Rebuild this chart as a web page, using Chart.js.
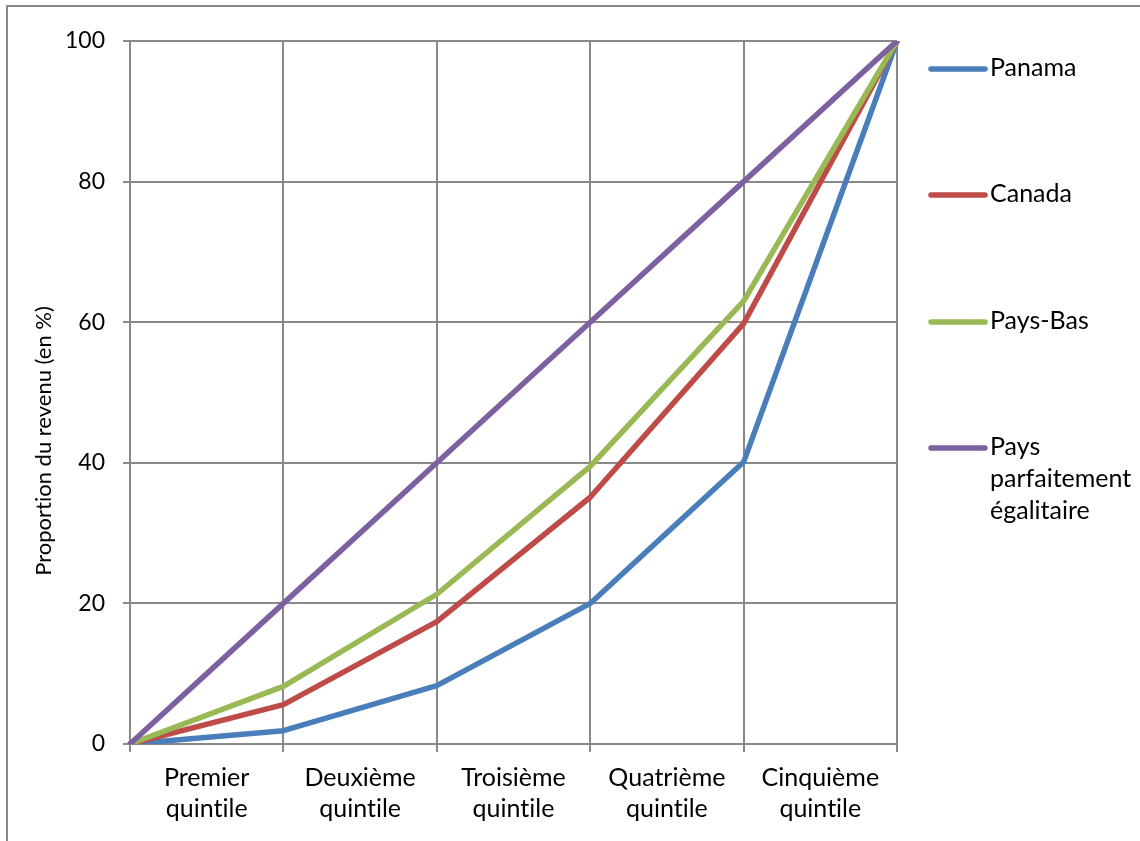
<!DOCTYPE html>
<html lang="fr">
<head>
<meta charset="utf-8">
<title>Courbes de Lorenz</title>
<script src="https://cdn.jsdelivr.net/npm/chart.js@4/dist/chart.umd.min.js"></script>
<style>
  html, body { margin: 0; padding: 0; background: #fff; }
  #wrap { width: 1140px; height: 841px; position: relative; }
</style>
</head>
<body>
<div id="wrap"><canvas id="lorenz" width="1140" height="841"></canvas></div>
<script>
// Cumulative share of population (x positions) and quintile names
const populationShare = [0, 20, 40, 60, 80, 100];
const quintiles = [
  ['Premier', 'quintile'],
  ['Deuxième', 'quintile'],
  ['Troisième', 'quintile'],
  ['Quatrième', 'quintile'],
  ['Cinquième', 'quintile']
];

// Cumulative share of income (%)
const panama   = [0, 1.9, 8.3, 20.0, 40.1, 100];
const canada   = [0, 5.6, 17.4, 35.1, 59.8, 100];
const paysBas  = [0, 8.2, 21.3, 39.5, 63.0, 100];
const egalite  = [0, 20, 40, 60, 80, 100];

const yTicks = [0, 20, 40, 60, 80, 100];

const seriesNames = ['Panama', 'Canada', 'Pays-Bas', 'Pays parfaitement égalitaire'];
const seriesColors = ['#4A7EBB', '#BE4B48', '#98B954', '#7D60A0'];

const FONT = 'Lato, "Open Sans", "Noto Sans", sans-serif';
const GRID = '#898989';

// White page with the thin frame around the chart; plain glyphs, no ligatures
const framePlugin = {
  id: 'frame',
  beforeDraw(chart) {
    const c = chart.ctx;
    if ('textRendering' in c) c.textRendering = 'optimizeSpeed';
    c.save();
    c.fillStyle = '#fff';
    c.fillRect(0, 0, chart.width, chart.height);
    c.strokeStyle = GRID;
    c.lineWidth = 2;
    c.beginPath();
    c.moveTo(7, chart.height + 2);
    c.lineTo(7, 6);
    c.lineTo(chart.width + 2, 6);
    c.stroke();
    c.restore();
  }
};

// Rotated y-axis title
const yTitlePlugin = {
  id: 'yTitle',
  afterDraw(chart) {
    const c = chart.ctx;
    c.save();
    c.translate(44, 441);
    c.rotate(-Math.PI / 2);
    c.font = '22px ' + FONT;
    c.fillStyle = '#000';
    c.textAlign = 'center';
    c.textBaseline = 'middle';
    c.fillText('Proportion du revenu (en %)', 0, 0);
    c.restore();
  }
};

// Legend on the right, one entry per series, long names wrapped
const sideLegendPlugin = {
  id: 'sideLegend',
  afterDraw(chart) {
    const c = chart.ctx;
    const ys = [69, 195, 322, 448];
    const lineH = 32;
    const maxW = 146;
    c.save();
    c.font = '25px ' + FONT;
    c.textAlign = 'left';
    c.textBaseline = 'alphabetic';
    chart.data.datasets.forEach((ds, i) => {
      const y = ys[i];
      c.strokeStyle = ds.borderColor;
      c.lineWidth = 5.5;
      c.lineCap = 'round';
      c.beginPath();
      c.moveTo(931, y);
      c.lineTo(985, y);
      c.stroke();
      // word wrap
      const words = ds.label.split(' ');
      const lines = [];
      let cur = '';
      words.forEach(w => {
        const test = cur ? cur + ' ' + w : w;
        if (cur && c.measureText(test).width > maxW) { lines.push(cur); cur = w; }
        else cur = test;
      });
      if (cur) lines.push(cur);
      c.fillStyle = '#000';
      lines.forEach((t, k) => c.fillText(t, 990, y + 7 + k * lineH));
    });
    c.restore();
  }
};

const datasets = [panama, canada, paysBas, egalite].map((vals, i) => ({
  label: seriesNames[i],
  data: vals,
  borderColor: seriesColors[i],
  backgroundColor: seriesColors[i],
  borderWidth: 5.5,
  pointRadius: 0,
  pointHoverRadius: 0,
  tension: 0,
  fill: false,
  borderJoinStyle: 'round',
  borderCapStyle: 'round',
  order: 3 - i
}));

new Chart(document.getElementById('lorenz'), {
  type: 'line',
  data: { labels: populationShare, datasets },
  plugins: [framePlugin, yTitlePlugin, sideLegendPlugin],
  options: {
    responsive: false,
    animation: false,
    events: [],
    layout: { padding: { top: 41, right: 243, left: 0, bottom: 0 } },
    plugins: { legend: { display: false }, tooltip: { enabled: false } },
    scales: {
      x: {
        type: 'category',
        offset: false,
        afterFit(scale) { scale.height = 97; },
        grid: { color: GRID, lineWidth: 2, tickLength: 8, tickColor: GRID },
        border: { color: GRID, width: 2 },
        ticks: {
          autoSkip: false,
          maxRotation: 0,
          minRotation: 0,
          padding: 10,
          labelOffset: (897 - 130) / 10,
          color: '#000',
          font: { family: FONT, size: 25, lineHeight: 31 / 25 },
          callback: (v, i) => quintiles[i] || ''
        }
      },
      y: {
        min: 0,
        max: 100,
        afterFit(scale) { scale.width = 130; },
        afterBuildTicks(scale) { scale.ticks = yTicks.map(v => ({ value: v })); },
        grid: { color: GRID, lineWidth: 2, tickLength: 7, tickColor: GRID },
        border: { color: GRID, width: 2 },
        ticks: {
          padding: 18,
          color: '#000',
          font: { family: FONT, size: 23 }
        }
      }
    }
  }
});
</script>
</body>
</html>
